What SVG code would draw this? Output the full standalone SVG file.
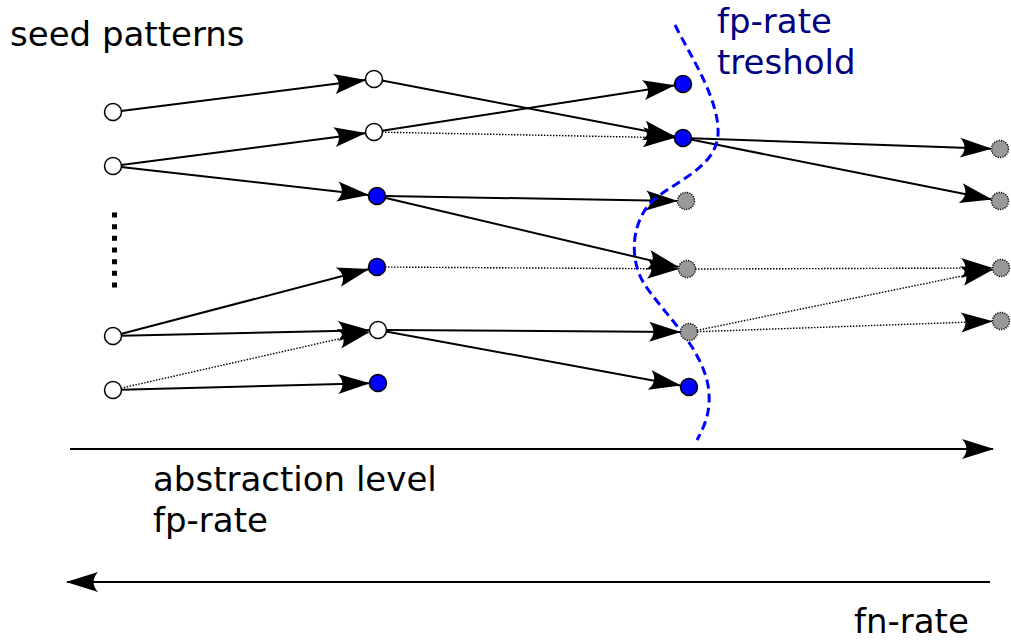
<svg xmlns="http://www.w3.org/2000/svg" width="1011" height="641" viewBox="0 0 1011 641">
<style>
.txt{font-family:"DejaVu Sans","Liberation Sans",sans-serif;font-size:34px;fill:#000}
.thr{fill:#000080}
.e{fill:none;stroke:#000;stroke-width:2}
.d{fill:none;stroke:#000;stroke-width:1.4;stroke-dasharray:1.5 1.5}
.w{fill:#fff;stroke:#000;stroke-width:1.5}
.b{fill:#0000ff;stroke:#000;stroke-width:1.5}
.g{fill:#999;stroke:#000;stroke-width:1.5;stroke-dasharray:1.2 1.2}
</style>
<defs>
<marker id="ah" markerUnits="userSpaceOnUse" viewBox="-33 -11 35 22" refX="0" refY="0" markerWidth="35" markerHeight="22" orient="auto" overflow="visible">
<path d="M1,0 L-31,-10 C-25,-3.5 -25,3.5 -31,10 Z" fill="#000"/>
</marker>
</defs>
<rect width="1011" height="641" fill="#fff"/>
<g id="connectors">
<line class="e" x1="121" y1="111" x2="365.1" y2="80.1" marker-end="url(#ah)"/>
<line class="e" x1="121" y1="165" x2="365.1" y2="133.2" marker-end="url(#ah)"/>
<line class="e" x1="121" y1="167" x2="368.1" y2="195" marker-end="url(#ah)"/>
<line class="e" x1="382" y1="80.5" x2="674.2" y2="136.3" marker-end="url(#ah)"/>
<line class="e" x1="382" y1="130.8" x2="674.1" y2="85.4" marker-end="url(#ah)"/>
<line class="d" x1="382" y1="132.2" x2="674" y2="137.8" marker-end="url(#ah)"/>
<line class="e" x1="385" y1="196.1" x2="677" y2="200.9" marker-end="url(#ah)"/>
<line class="e" x1="384.8" y1="197.8" x2="678.2" y2="266.9" marker-end="url(#ah)"/>
<line class="d" x1="385" y1="267.05" x2="678" y2="268.9" marker-end="url(#ah)"/>
<line class="e" x1="120.7" y1="334" x2="368.3" y2="269.3" marker-end="url(#ah)"/>
<line class="e" x1="121" y1="335.8" x2="369" y2="330.2" marker-end="url(#ah)"/>
<line class="d" x1="120.8" y1="388.2" x2="369.2" y2="332" marker-end="url(#ah)"/>
<line class="e" x1="121" y1="389.8" x2="369" y2="383.2" marker-end="url(#ah)"/>
<line class="e" x1="386" y1="330.05" x2="680" y2="331.9" marker-end="url(#ah)"/>
<line class="e" x1="385.9" y1="331.4" x2="680.1" y2="385.4" marker-end="url(#ah)"/>
<line class="e" x1="691" y1="138.3" x2="991" y2="148.7" marker-end="url(#ah)"/>
<line class="e" x1="690.8" y1="139.6" x2="991.2" y2="199.2" marker-end="url(#ah)"/>
<line class="d" x1="695" y1="269" x2="992" y2="268" marker-end="url(#ah)"/>
<line class="d" x1="696.8" y1="330.4" x2="992.2" y2="269.8" marker-end="url(#ah)"/>
<line class="d" x1="697" y1="331.7" x2="992" y2="321.3" marker-end="url(#ah)"/>
<line class="e" x1="70" y1="449" x2="993" y2="449" marker-end="url(#ah)"/>
<line class="e" x1="990" y1="582" x2="67" y2="582" marker-end="url(#ah)"/>
</g>
<g id="ellipsis">
<line x1="114.5" y1="212.5" x2="114.5" y2="287.5" stroke="#000" stroke-width="5" stroke-dasharray="5 6.67"/>
</g>
<g id="threshold">
<path d="M675,25 C690,55 720,100 718,135 C716,165 680,180 660,195 C630,215 628,260 645,285 C665,315 700,345 708,385 C712,410 705,425 697,440" fill="none" stroke="#0000ff" stroke-width="3" stroke-dasharray="9 5"/>
</g>
<g id="n1a"><circle class="w" cx="113" cy="112" r="8.5"/></g>
<g id="n1b"><circle class="w" cx="113" cy="166" r="8.5"/></g>
<g id="n1c"><circle class="w" cx="113" cy="336" r="8.5"/></g>
<g id="n1d"><circle class="w" cx="113" cy="390" r="8.5"/></g>
<g id="n2a"><circle class="w" cx="374" cy="79" r="8.5"/></g>
<g id="n2b"><circle class="w" cx="374" cy="132" r="8.5" fill-opacity="0"/></g>
<g id="n2c"><circle class="b" cx="377" cy="196" r="8.5"/></g>
<g id="n2d"><circle class="b" cx="377" cy="267" r="8.5"/></g>
<g id="n2e"><circle class="w" cx="378" cy="330" r="8.5"/></g>
<g id="n2f"><circle class="b" cx="378" cy="383" r="8.5"/></g>
<g id="n3a"><circle class="b" cx="683" cy="84" r="8.5"/></g>
<g id="n3b"><circle class="b" cx="683" cy="138" r="8.5"/></g>
<g id="n3c"><circle class="g" cx="686" cy="201" r="8.5"/></g>
<g id="n3d"><circle class="g" cx="687" cy="269" r="8.5"/></g>
<g id="n3e"><circle class="g" cx="689" cy="332" r="8.5"/></g>
<g id="n3f"><circle class="b" cx="689" cy="387" r="8.5"/></g>
<g id="n4a"><circle class="g" cx="1000" cy="149" r="8.5"/></g>
<g id="n4b"><circle class="g" cx="1000" cy="201" r="8.5"/></g>
<g id="n4c"><circle class="g" cx="1001" cy="268" r="8.5"/></g>
<g id="n4d"><circle class="g" cx="1001" cy="321" r="8.5"/></g>
<g id="labels">
<text class="txt" x="10" y="46">seed patterns</text>
<text class="txt thr" x="717" y="33">fp-rate</text>
<text class="txt thr" x="717" y="74">treshold</text>
<text class="txt" x="153" y="491">abstraction level</text>
<text class="txt" x="153" y="532">fp-rate</text>
<text class="txt" x="854" y="633">fn-rate</text>
</g>
</svg>
